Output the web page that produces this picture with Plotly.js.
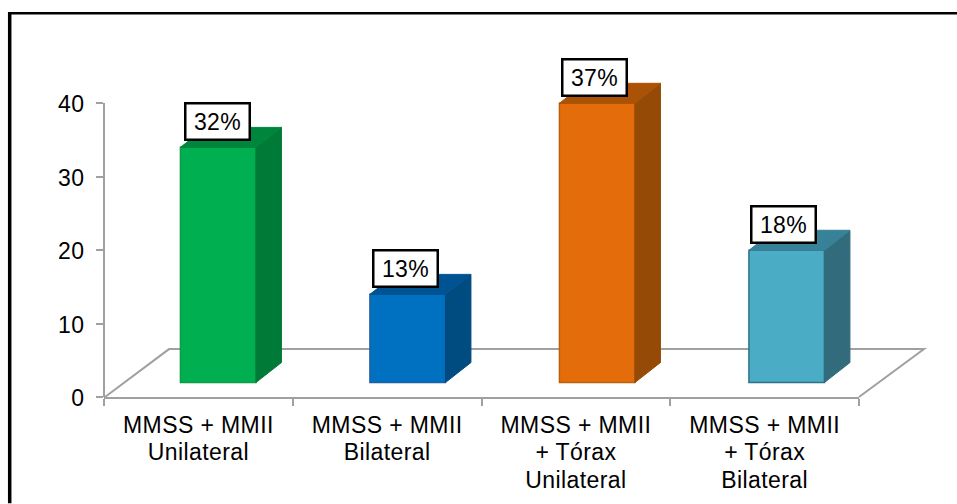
<!DOCTYPE html>
<html>
<head>
<meta charset="utf-8">
<script src="https://cdn.plot.ly/plotly-3.0.1.min.js"></script>
<style>
html,body{margin:0;padding:0;background:#fff;}
#chart{width:957px;height:504px;}
#chart text{letter-spacing:.4px;}
</style>
</head>
<body>
<div id="chart"></div>
<script>
const categories = ["MMSS + MMII<br>Unilateral", "MMSS + MMII<br>Bilateral", "MMSS + MMII<br>+ Tórax<br>Unilateral", "MMSS + MMII<br>+ Tórax<br>Bilateral"];
const values = [32, 12, 38, 18];
const pctLabels = ["32%", "13%", "37%", "18%"];
const yTicks = [0, 10, 20, 30, 40];
const faceColors = ["#00B050", "#0070C0", "#E46C0A", "#4BACC6"];
const sideColors = ["#007A37", "#004B80", "#954A06", "#326B7C"];
const topColors  = ["#00863C", "#005392", "#AC5207", "#378199"];
const edgeColors = ["#0F9A4C", "#1F5FA6", "#B8620F", "#2A7389"];

const W = 957, H = 504;
const yTop = 43, yAxisEnd = 40;      // the plot runs above the axis so the 3D depth of the tallest bar fits
const unitY = 294.5 / yAxisEnd;
const plot = {l:104, r:859, b:397.5, t:397.5 - yTop * unitY};
const pw = plot.r - plot.l, ph = plot.b - plot.t;
const pxX = p => (p - plot.l) / pw;
const pxY = p => (plot.b - p) / ph;
const unitX = pw / 4;

const floorBase = 14.5 / unitY;      // bars stand forward of the axis plane
const barShift = 19.8 / unitX, barWidth = 75.5 / unitX, barDrift = 0.004;
const depthX = 25.5 / unitX, depthY = 20 / unitY;
const centres = categories.map((_, i) => i + 0.5);
const barX = centres.map((c, i) => c + barShift + i * barDrift);

const traces = [{
  type: "bar", x: barX, y: values, base: values.map(() => floorBase), width: barWidth,
  marker: {color: faceColors, line: {color: edgeColors, width: 1.5}},
  hoverinfo: "skip", showlegend: false
}];
values.forEach((v, i) => {
  const x0 = barX[i] - barWidth / 2, x1 = barX[i] + barWidth / 2;
  const y0 = floorBase, y1 = floorBase + v;
  traces.push({
    type: "scatter", mode: "lines", fill: "toself", fillcolor: sideColors[i],
    x: [x1, x1 + depthX, x1 + depthX, x1, x1], y: [y0, y0 + depthY, y1 + depthY, y1, y0],
    line: {color: sideColors[i], width: 1}, cliponaxis: false, hoverinfo: "skip", showlegend: false
  });
  traces.push({
    type: "scatter", mode: "lines", fill: "toself", fillcolor: topColors[i],
    x: [x0, x0 + depthX, x1 + depthX, x1, x0], y: [y1, y1 + depthY, y1 + depthY, y1, y1],
    line: {color: topColors[i], width: 1}, cliponaxis: false, hoverinfo: "skip", showlegend: false
  });
});

const labelFont = {family: "Liberation Sans, Arial, sans-serif", size: 23, color: "#000"};
const annotations = values.map((v, i) => ({
  xref: "x", yref: "paper", xanchor: "center", yanchor: "middle",
  x: barX[i] - 0.004 - i * 0.005, y: (floorBase + v + 26 / unitY) / yTop,
  text: pctLabels[i], showarrow: false, font: labelFont,
  bgcolor: "#fff", bordercolor: "#000", borderwidth: 2.5, borderpad: 0,
  width: 62, height: 34, align: "center", valign: "middle"
}));

const floorPath = ["M", pxX(105), pxY(397.5), "L", pxX(169), pxY(349.5), "L", pxX(924), pxY(349.5), "L", pxX(859), pxY(397.5)].join(" ");
const shapes = [
  {type: "path", xref: "paper", yref: "paper", path: floorPath, line: {color: "#A0A0A0", width: 2}, layer: "below"},
  {type: "line", xref: "paper", yref: "paper", x0: 0, x1: 0, y0: 0, y1: yAxisEnd / yTop, line: {color: "#A0A0A0", width: 2}, layer: "below"},
  {type: "line", xref: "paper", yref: "paper", x0: pxX(9.7), x1: pxX(9.7), y0: pxY(12), y1: pxY(H), line: {color: "#000", width: 3.5}},
  {type: "line", xref: "paper", yref: "paper", x0: pxX(8), x1: pxX(W), y0: pxY(13), y1: pxY(13), line: {color: "#000", width: 2.5}}
];

const layout = {
  width: W, height: H,
  margin: {l: plot.l, r: W - plot.r, t: plot.t, b: H - plot.b, pad: 0},
  paper_bgcolor: "#fff", plot_bgcolor: "rgba(0,0,0,0)",
  showlegend: false, bargap: 0, shapes, annotations,
  xaxis: {
    range: [0, 4], tickmode: "array", tickvals: centres, ticktext: categories, ticks: "",
    minor: {tickmode: "array", tickvals: [0, 1, 2, 3, 4], ticks: "outside", ticklen: 7, tickwidth: 2, tickcolor: "#A0A0A0", showgrid: false},
    showgrid: false, zeroline: false, showline: true, linecolor: "#A0A0A0", linewidth: 2,
    tickfont: labelFont, tickangle: 0, ticklabelstandoff: 6, automargin: false
  },
  yaxis: {
    range: [0, yTop], tickmode: "array", tickvals: yTicks, ticks: "outside", ticklen: 7, tickwidth: 2, tickcolor: "#A0A0A0",
    showgrid: false, zeroline: false, showline: false,
    tickfont: labelFont, ticklabelstandoff: 7, ticklabelshift: 1, automargin: false
  }
};

Plotly.newPlot("chart", traces, layout, {displayModeBar: false, staticPlot: true}).then(() => {
  document.querySelectorAll("#chart .xtick tspan.line").forEach(t => {
    const dy = parseFloat(t.getAttribute("dy"));
    if (dy > 0) t.setAttribute("dy", (dy / 1.3 * 1.2).toFixed(3) + "em");
  });
});
</script>
</body>
</html>
